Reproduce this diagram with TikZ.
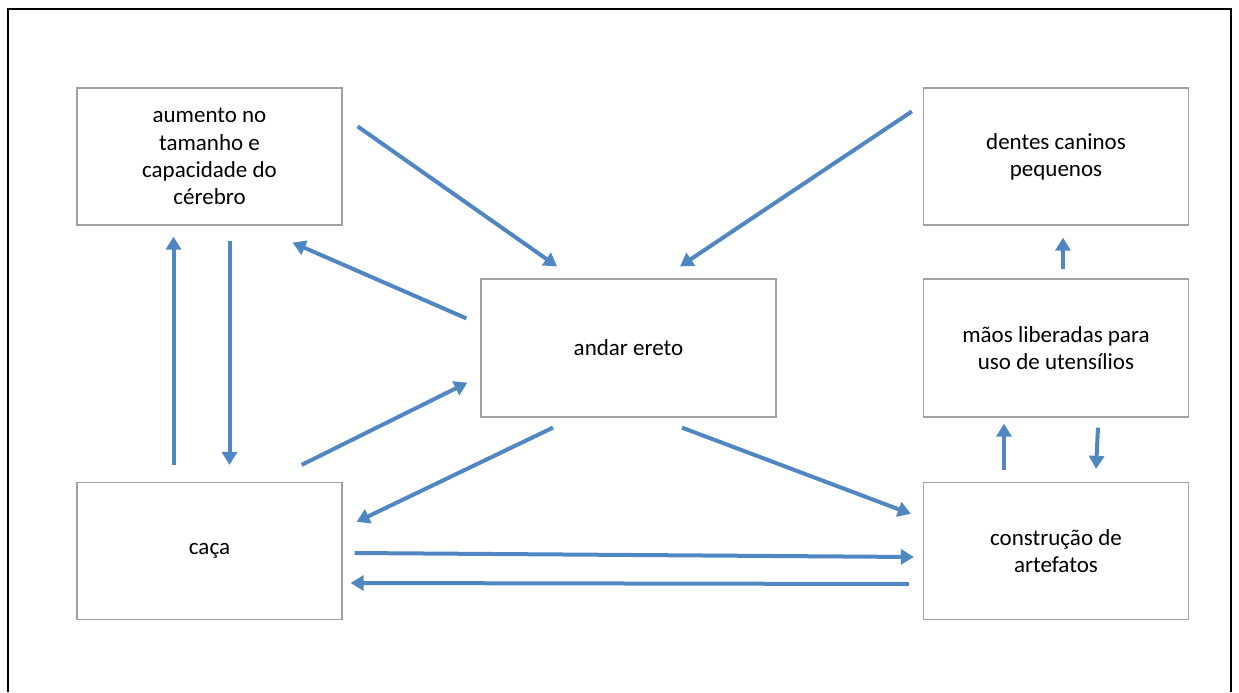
\documentclass[tikz,border=0pt]{standalone}
\usepackage{fontspec}
\setmainfont{Carlito}
\usepackage{tikz}
\usetikzlibrary{arrows.meta,calc}
\definecolor{arrowblue}{RGB}{80,135,195}
\definecolor{boxgray}{RGB}{160,160,160}

\begin{document}
\begin{tikzpicture}[x=0.5pt,y=-0.5pt,
    box node/.style={rectangle,draw=boxgray,line width=0.6pt,inner sep=0pt,
      minimum width=132.5pt,minimum height=68.5pt,align=center,
      font=\fontsize{11.5}{13.6}\selectfont},
    link/.style={draw=arrowblue,line width=2pt,-{Triangle[length=6.5pt,width=7.5pt]}}]
  \useasboundingbox (0,0) rectangle (1239,692);
  \draw[line width=1.3pt] (8,692) -- (8,9) -- (1231,9) -- (1231,692);

  \node[box node] (aum) at (209.5,156.5) {aumento no\\tamanho e\\capacidade do\\cérebro};
  \node[box node] (den) at (1056,156.5) {dentes caninos\\pequenos};
  \node[box node,minimum width=147.5pt,minimum height=69pt] (and) at (628.5,348) {andar ereto};
  \node[box node,minimum height=69pt] (mao) at (1056,348) {mãos liberadas para\\uso de utensílios};
  \node[box node] (cac) at (209.5,551) {caça};
  \node[box node] (con) at (1056,551) {construção de\\artefatos};

  \draw[link] ([shift={(15,39)}]aum.north east) -- ([shift={(-71.5,-12)}]and.north);
  \draw[link] ([shift={(-11,24)}]den.north west) -- ([shift={(51.5,-12)}]and.north);
  \draw[link] ([shift={(-14,40)}]and.north west) -- ([shift={(-50,17)}]aum.south east);
  \draw[link] ([shift={(-41,-17)}]cac.north east) -- ([shift={(-13,-35)}]and.south west);
  \draw[link] ([shift={(-75.5,10)}]and.south) -- ([shift={(14,40)}]cac.north east);
  \draw[link] ([shift={(53.5,10)}]and.south) -- ([shift={(-12,32)}]con.north west);
  \draw[link] ([shift={(12,2)}]cac.east) -- ([shift={(-9,6)}]con.west);
  \draw[link] ([shift={(-14,33)}]con.west) -- ([shift={(8,32)}]cac.east);
  \draw[link] ([shift={(-36,-17)}]cac.north) -- ([shift={(-36,11)}]aum.south);
  \draw[link] ([shift={(20,15)}]aum.south) -- ([shift={(20,-17)}]cac.north);
  \draw[link] ([shift={(7,-9)}]mao.north) -- ([shift={(7,12)}]den.south);
  \draw[link] ([shift={(-52,-12)}]con.north) -- ([shift={(-52,6)}]mao.south);
  \draw[link] ([shift={(42,10)}]mao.south) -- ([shift={(40,-13)}]con.north);
\end{tikzpicture}
\end{document}
